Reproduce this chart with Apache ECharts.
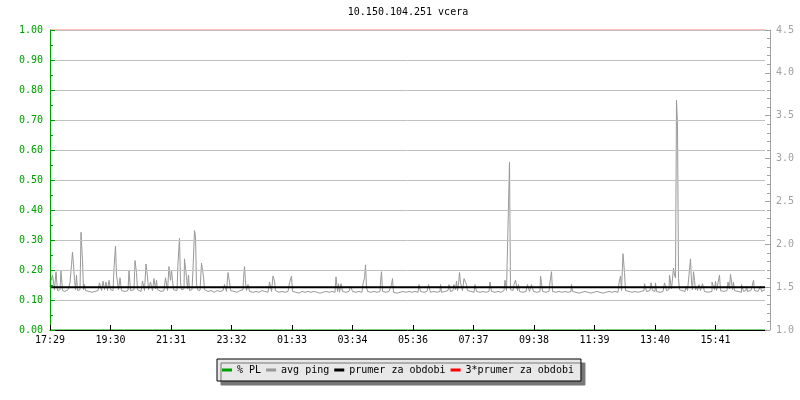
<!DOCTYPE html>
<html><head><meta charset="utf-8">
<script src="https://cdn.jsdelivr.net/npm/echarts@6/dist/echarts.min.js"></script>
<style>html,body{margin:0;padding:0;background:#fff}#c{width:800px;height:400px}</style>
</head><body><div id="c"></div>
<script>
const titleText = '10.150.104.251 vcera';
// x axis: minutes since 17:29
const timeLabels = ['17:29','19:30','21:31','23:32','01:33','03:34','05:36','07:37','09:38','11:39','13:40','15:41'];
const labelStepMin = 121;
const spanMin = 1430;
const legendNames = ['% PL', 'avg ping', 'prumer za obdobi', '3*prumer za obdobi'];
// % packet loss (left axis)
const plPercent = [[0, 0], [1430, 0]];
// period averages (right axis, ms)
const periodAvg = 1.5;
const periodAvg3 = 4.5;
// avg ping [minute, ms] (right axis)
const avgPing = [
[0,1.50],[2,1.63],[4,1.58],[6,1.64],[8,1.56],[10,1.47],[14,1.68],[16,1.46],[20,1.47],[24,1.69],[26,1.46],
[30,1.45],[34,1.47],[38,1.46],[42,1.55],[44,1.76],[46,1.91],[48,1.76],[50,1.58],[52,1.47],[54,1.64],[56,1.46],
[60,1.47],[64,2.14],[66,1.81],[68,1.47],[70,1.53],[72,1.46],[78,1.45],[84,1.44],[90,1.45],[96,1.46],
[102,1.55],[104,1.46],[108,1.57],[110,1.47],[114,1.56],[116,1.46],[120,1.58],[122,1.47],[126,1.46],
[130,1.72],[132,1.98],[134,1.64],[136,1.56],[138,1.47],[142,1.61],[144,1.46],[150,1.45],[156,1.46],
[160,1.70],[162,1.46],[168,1.47],[172,1.81],[174,1.67],[176,1.47],[182,1.45],[188,1.57],[190,1.46],
[194,1.77],[196,1.62],[198,1.47],[204,1.56],[206,1.46],[210,1.60],[212,1.48],[214,1.58],[216,1.47],
[222,1.45],[228,1.46],[234,1.61],[236,1.46],[240,1.74],[242,1.58],[244,1.70],[246,1.58],[248,1.47],
[254,1.46],[258,1.78],[260,2.07],[262,1.56],[264,1.47],[268,1.48],[270,1.83],[272,1.72],[274,1.62],
[276,1.48],[278,1.64],[280,1.46],[284,1.47],[288,1.71],[290,2.16],[292,2.09],[294,1.54],[296,1.47],
[300,1.46],[306,1.78],[308,1.62],[310,1.47],[316,1.45],[322,1.46],[328,1.44],[334,1.46],[340,1.45],
[346,1.46],[352,1.53],[354,1.45],[358,1.67],[360,1.56],[362,1.46],[368,1.45],[374,1.44],[380,1.46],
[386,1.47],[388,1.60],[390,1.74],[392,1.56],[394,1.46],[398,1.53],[400,1.45],[406,1.44],[412,1.45],
[418,1.44],[424,1.46],[430,1.45],[436,1.44],[442,1.56],[444,1.45],[448,1.63],[450,1.57],[452,1.46],
[458,1.44],[464,1.45],[470,1.44],[476,1.45],[482,1.55],[484,1.63],[486,1.45],[492,1.44],[498,1.43],
[504,1.45],[510,1.44],[516,1.45],[522,1.44],[528,1.45],[534,1.44],[540,1.43],[546,1.44],[552,1.45],
[558,1.44],[564,1.45],[570,1.44],[574,1.62],[576,1.45],[578,1.54],[580,1.44],[584,1.54],[586,1.45],
[592,1.44],[598,1.45],[604,1.51],[606,1.45],[612,1.44],[618,1.45],[624,1.44],[628,1.54],[630,1.61],
[632,1.76],[634,1.50],[636,1.45],[642,1.44],[648,1.45],[654,1.44],[660,1.45],[662,1.56],[664,1.68],
[666,1.45],[672,1.44],[678,1.45],[682,1.45],[684,1.53],[686,1.60],[688,1.44],[694,1.43],[700,1.44],
[706,1.45],[712,1.44],[718,1.45],[724,1.44],[730,1.45],[736,1.44],[740,1.53],[742,1.45],[748,1.44],
[754,1.45],[760,1.53],[762,1.44],[768,1.45],[774,1.44],[780,1.45],[782,1.53],[784,1.44],[790,1.45],
[796,1.46],[800,1.53],[802,1.45],[806,1.46],[810,1.53],[812,1.47],[814,1.57],[816,1.46],[818,1.53],
[820,1.67],[822,1.55],[824,1.53],[826,1.46],[830,1.60],[832,1.56],[834,1.53],[836,1.46],[842,1.45],
[848,1.44],[852,1.53],[854,1.45],[860,1.44],[866,1.45],[872,1.44],[878,1.45],[882,1.56],[884,1.45],
[890,1.44],[896,1.45],[902,1.44],[908,1.46],[912,1.58],[914,1.46],[918,2.21],[920,2.96],[922,1.47],
[926,1.46],[930,1.53],[932,1.58],[934,1.60],[936,1.46],[938,1.53],[940,1.45],[946,1.44],[952,1.45],
[958,1.53],[960,1.45],[966,1.53],[968,1.45],[974,1.44],[980,1.45],[982,1.63],[984,1.55],[986,1.45],
[992,1.44],[998,1.45],[1002,1.56],[1004,1.68],[1006,1.45],[1012,1.44],[1018,1.45],[1024,1.44],
[1030,1.45],[1036,1.44],[1042,1.45],[1044,1.53],[1046,1.45],[1052,1.44],[1058,1.43],[1064,1.44],
[1070,1.45],[1076,1.44],[1082,1.43],[1088,1.44],[1094,1.45],[1100,1.44],[1106,1.43],[1112,1.44],
[1118,1.45],[1124,1.44],[1130,1.45],[1136,1.44],[1140,1.55],[1142,1.63],[1144,1.46],[1148,1.89],
[1150,1.67],[1152,1.46],[1158,1.45],[1164,1.44],[1170,1.45],[1176,1.44],[1182,1.45],[1188,1.46],
[1190,1.54],[1192,1.56],[1194,1.45],[1200,1.46],[1204,1.55],[1206,1.46],[1210,1.45],[1212,1.55],
[1214,1.45],[1220,1.44],[1226,1.45],[1232,1.55],[1234,1.46],[1238,1.47],[1240,1.64],[1242,1.56],
[1244,1.48],[1246,1.50],[1248,1.72],[1250,1.64],[1252,1.61],[1254,3.68],[1256,3.39],[1258,1.60],
[1260,1.47],[1264,1.46],[1270,1.45],[1274,1.51],[1276,1.46],[1280,1.64],[1282,1.83],[1284,1.56],
[1286,1.47],[1288,1.68],[1290,1.58],[1292,1.47],[1294,1.51],[1296,1.46],[1300,1.53],[1302,1.46],
[1308,1.54],[1310,1.45],[1316,1.44],[1320,1.45],[1328,1.56],[1330,1.47],[1332,1.57],[1334,1.46],
[1338,1.55],[1340,1.64],[1342,1.46],[1348,1.45],[1354,1.46],[1358,1.56],[1360,1.48],[1362,1.65],
[1364,1.63],[1366,1.47],[1368,1.56],[1370,1.46],[1376,1.45],[1380,1.44],[1386,1.53],[1388,1.45],
[1392,1.46],[1394,1.51],[1396,1.45],[1402,1.46],[1406,1.45],[1408,1.58],[1410,1.46],[1416,1.45],
[1420,1.46],[1422,1.51],[1424,1.45],[1430,1.47]
];

const FONT = 'DejaVu Sans Mono';
const GREEN = '#00a000';
const GREY = '#a0a0a0';
const tickVals = timeLabels.map((_, i) => i * labelStepMin);

const chart = echarts.init(document.getElementById('c'), null, {renderer: 'canvas'});
chart.setOption({
  animation: false,
  backgroundColor: '#fff',
  title: {
    text: titleText, left: 408, top: 7, textAlign: 'center', padding: 0,
    textStyle: {fontFamily: FONT, fontSize: 10, fontWeight: 'normal', color: '#000'}
  },
  legend: {
    data: legendNames, left: 217, top: 359, orient: 'horizontal',
    icon: 'rect', itemWidth: 10, itemHeight: 3, itemGap: 5,
    padding: [6, 7, 6, 5], backgroundColor: '#e8e8e8', borderColor: '#000', borderWidth: 1,
    shadowColor: '#777', shadowOffsetX: 4, shadowOffsetY: 4, shadowBlur: 0,
    selectedMode: false,
    textStyle: {fontFamily: FONT, fontSize: 10, color: '#000', padding: 0}
  },
  grid: {left: 50, right: 35, top: 30, bottom: 70, containLabel: false},
  xAxis: {
    type: 'value', min: 0, max: spanMin, z: 10,
    axisLine: {show: true, lineStyle: {color: '#000', width: 1}},
    axisTick: {show: true, inside: true, length: 5, customValues: tickVals, lineStyle: {color: '#000'}},
    axisLabel: {customValues: tickVals, formatter: v => timeLabels[Math.round(v / labelStepMin)] || '',
      color: '#000', fontFamily: FONT, fontSize: 10, margin: 5},
    splitLine: {show: false}
  },
  yAxis: [{
    type: 'value', min: 0, max: 1, interval: 0.1, position: 'left', z: 10,
    axisLine: {show: true, lineStyle: {color: GREEN}},
    axisTick: {show: true, inside: true, length: 5, lineStyle: {color: GREEN}},
    minorTick: {show: true, splitNumber: 2, length: 3, lineStyle: {color: GREEN}},
    axisLabel: {color: GREEN, fontFamily: FONT, fontSize: 10, margin: 7, formatter: v => v.toFixed(2)},
    splitLine: {show: true, lineStyle: {color: '#c0c0c0', width: 1}}
  }, {
    type: 'value', min: 1, max: 4.5, interval: 0.5, position: 'right', offset: 5, z: 10,
    axisLine: {show: true, lineStyle: {color: GREY}},
    axisTick: {show: true, inside: true, length: 5, lineStyle: {color: GREY}},
    minorTick: {show: true, splitNumber: 5, length: 3, lineStyle: {color: GREY}},
    axisLabel: {color: GREY, fontFamily: FONT, fontSize: 10, margin: 6, formatter: v => v.toFixed(1)},
    splitLine: {show: false}
  }],
  series: [{
    name: legendNames[0], type: 'line', yAxisIndex: 0, data: plPercent, color: GREEN,
    showSymbol: false, lineStyle: {width: 1, color: GREEN}, z: 1
  }, {
    name: legendNames[1], type: 'line', yAxisIndex: 1, data: avgPing, color: '#999', step: 'middle',
    showSymbol: false, lineStyle: {width: 1, color: '#999'}, z: 2
  }, {
    name: legendNames[2], type: 'line', yAxisIndex: 1, data: [[0, periodAvg], [spanMin, periodAvg]], color: '#000',
    showSymbol: false, lineStyle: {width: 2, color: '#000'}, z: 3
  }, {
    name: legendNames[3], type: 'line', yAxisIndex: 1, data: [[0, periodAvg3], [spanMin, periodAvg3]], color: '#ff0000',
    showSymbol: false, lineStyle: {width: 1, color: '#ff0000'}, z: 4
  }]
});
</script></body></html>
